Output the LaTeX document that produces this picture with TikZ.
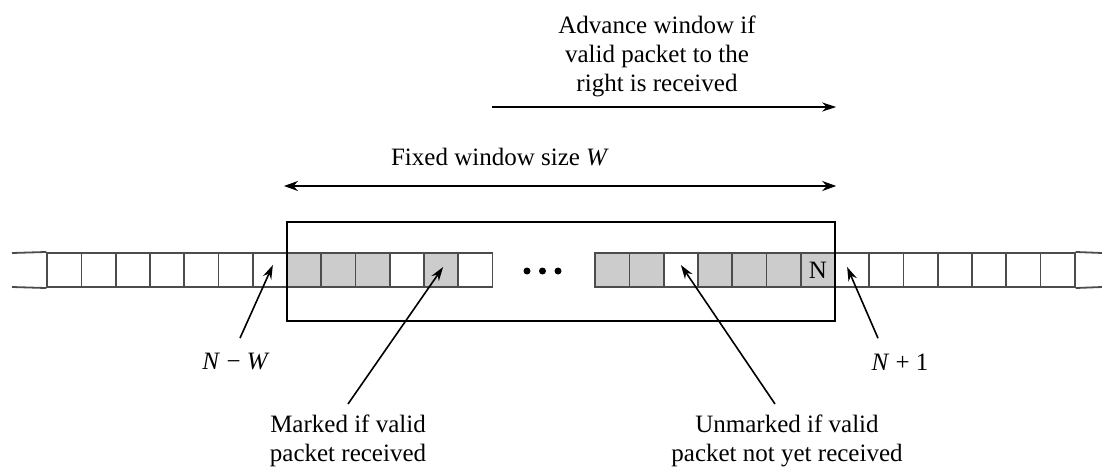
\documentclass[tikz,border=0pt]{standalone}
\usepackage{fontspec}
\setmainfont{Liberation Serif}
\usetikzlibrary{arrows.meta, positioning, calc}

\begin{document}
\begin{tikzpicture}[
  x=1pt, y=-1pt,
  every node/.style={font=\fontsize{25}{29}\selectfont, align=center},
  cellbox/.style={rectangle, draw=black!70, line width=1.8pt,
    minimum size=34.25pt, inner sep=0pt, fill=white},
  strip/.style={draw=black!70, line width=1.8pt},
  window/.style={rectangle, draw, line width=2.4pt, inner sep=0pt,
    minimum width=548pt, minimum height=99pt},
  pointer/.style={draw, line width=1.6pt, -{Stealth[length=14pt, width=9pt]}},
  span/.style={draw, line width=2pt,
    {Stealth[length=14pt, width=10pt]}-{Stealth[length=14pt, width=10pt]}}
]
\useasboundingbox (0,0) rectangle (1102,468);

% cells outside the window
\foreach \i in {1,...,7} {
  \node[cellbox] (L\i) at ({13+(\i+0.5)*34.25}, 270) {};
  \node[cellbox] (R\i) at ({835+(\i-0.5)*34.25}, 270) {};
}
\draw[strip] (12,253) -- (L1.north west) (12,287) -- (L1.south west);
\draw[strip] (R7.north east) -- (1102,253) (R7.south east) -- (1102,287);

% cells inside the window
\foreach \f [count=\i] in {gray!40, gray!40, gray!40, white, gray!40, white}
  \node[cellbox, fill=\f] (W\i) at ({287+(\i-0.5)*34.25}, 270) {};
\foreach \f [count=\i] in {gray!40, gray!40, white, gray!40, gray!40, gray!40}
  \node[cellbox, fill=\f] (G\i) at ({595.25+(\i-0.5)*34.25}, 270) {};
\node[cellbox, fill=gray!40] (G7) at ({595.25+6.5*34.25}, 270) {N};
\foreach \k in {0,1,2}
  \fill ({527+15.5*\k}, 271) circle (3.5);

\node[window] (win) at (561,271.5) {};

% window size and advance
\node (fixed) at (500,157) {Fixed window size \textit{W}};
\coordinate (fixed-l) at (284,186);
\draw[span] (fixed-l) -- (fixed-l -| win.east);

\node[anchor=north] (adv) at (657,12)
  {Advance window if\\valid packet to the\\right is received};
\coordinate (adv-s) at (492,107);
\draw[pointer, line width=2pt] (adv-s) -- (adv-s -| win.east);

% labels below
\node (nw) at (236,362) {\textit{N} − \textit{W}};
\node (np) at (900,362) {\textit{N} + 1};
\node[anchor=north] (mk) at (348,411) {Marked if valid\\packet received};
\node[anchor=north] (um) at (787,411) {Unmarked if valid\\packet not yet received};

\draw[pointer] ([shift={(4,-12)}]nw.north) -- ([shift={(3,-5)}]L7.center);
\draw[pointer] ([shift={(-22,-12)}]np.north) -- ([shift={(-5,-3)}]R1.center);
\draw[pointer] ([shift={(0,-7)}]mk.north) -- ([shift={(2,-3)}]W5.center);
\draw[pointer] ([shift={(-12,-7)}]um.north) -- ([shift={(0,-5)}]G3.center);

\end{tikzpicture}
\end{document}
